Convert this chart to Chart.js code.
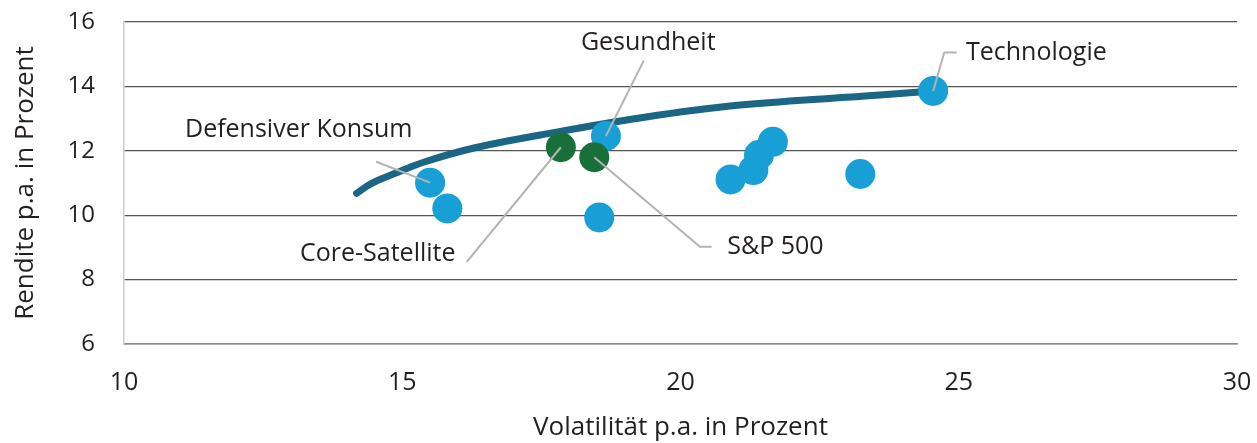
<!DOCTYPE html>
<html>
<head>
<meta charset="utf-8">
<script src="https://cdn.jsdelivr.net/npm/chart.js@4.4.1/dist/chart.umd.min.js"></script>
<style>
  html, body { margin: 0; padding: 0; background: #fff; }
  #wrap { width: 1257px; height: 443px; }
</style>
</head>
<body>
<div id="wrap"><canvas id="chart" width="1257" height="443"></canvas></div>
<script>
// efficient frontier (volatility / return)
const frontierVol = [14.18, 14.45, 14.87, 15.41, 16.27, 17.48, 19.27, 21.07, 23.58, 24.54];
const frontierRet = [10.68, 10.99, 11.30, 11.66, 12.08, 12.49, 13.02, 13.42, 13.73, 13.86];

// sectors (blue)
const sectorVol = [15.50, 15.81, 18.66, 18.54, 20.90, 21.31, 21.41, 21.66, 23.23, 24.54];
const sectorRet = [11.01, 10.21, 12.46, 9.93, 11.11, 11.40, 11.87, 12.28, 11.28, 13.86];

// portfolios (green): Core-Satellite, S&P 500
const portVol = [17.85, 18.45];
const portRet = [12.11, 11.80];

const xTicks = [10, 15, 20, 25, 30];
const yTicks = [6, 8, 10, 12, 14, 16];

// callout labels: text, label anchor, optional elbow, target point
const callouts = [
  { text: 'Defensiver Konsum', tx: 13.14, ty: 12.65, align: 'center', from: [14.53, 11.66], to: [sectorVol[0], sectorRet[0]] },
  { text: 'Gesundheit', tx: 19.42, ty: 15.35, align: 'center', from: [19.34, 14.80], to: [sectorVol[2], sectorRet[2]] },
  { text: 'Technologie', tx: 25.13, ty: 15.04, align: 'left', from: [24.96, 15.05], elbow: [24.74, 15.05], to: [sectorVol[9], sectorRet[9]] },
  { text: 'Core-Satellite', tx: 14.56, ty: 8.80, align: 'center', from: [16.16, 8.55], to: [portVol[0], portRet[0]] },
  { text: 'S&P 500', tx: 20.84, ty: 9.01, align: 'left', from: [20.56, 9.02], elbow: [20.35, 9.02], to: [portVol[1], portRet[1]] }
];

const FONT = "'Open Sans', sans-serif";
const TEXT = '#231f20';

const calloutPlugin = {
  id: 'callouts',
  afterDatasetsDraw(chart) {
    const { ctx, scales: { x, y } } = chart;
    ctx.save();
    ctx.strokeStyle = '#b3b3b3';
    ctx.lineWidth = 2;
    callouts.forEach(c => {
      ctx.beginPath();
      ctx.moveTo(x.getPixelForValue(c.from[0]), y.getPixelForValue(c.from[1]));
      if (c.elbow) ctx.lineTo(x.getPixelForValue(c.elbow[0]), y.getPixelForValue(c.elbow[1]));
      ctx.lineTo(x.getPixelForValue(c.to[0]), y.getPixelForValue(c.to[1]));
      ctx.stroke();
    });
    ctx.fillStyle = TEXT;
    ctx.font = '25px ' + FONT;
    ctx.textBaseline = 'middle';
    callouts.forEach(c => {
      ctx.textAlign = c.align;
      ctx.fillText(c.text, x.getPixelForValue(c.tx), y.getPixelForValue(c.ty));
    });
    ctx.restore();
  }
};

new Chart(document.getElementById('chart'), {
  type: 'scatter',
  data: {
    datasets: [
      {
        type: 'line',
        data: frontierVol.map((v, i) => ({ x: v, y: frontierRet[i] })),
        borderColor: '#1b6585',
        borderWidth: 7,
        borderCapStyle: 'round',
        pointRadius: 0,
        tension: 0.4,
        fill: false,
        order: 3
      },
      {
        data: sectorVol.map((v, i) => ({ x: v, y: sectorRet[i] })),
        backgroundColor: '#179fd6',
        borderWidth: 0,
        pointRadius: 15,
        order: 2
      },
      {
        data: portVol.map((v, i) => ({ x: v, y: portRet[i] })),
        backgroundColor: '#186f38',
        borderWidth: 0,
        pointRadius: 15,
        order: 1
      }
    ]
  },
  options: {
    responsive: false,
    animation: false,
    layout: { padding: { top: 22, right: 20, left: 0, bottom: 0 } },
    plugins: { legend: { display: false }, tooltip: { enabled: false } },
    scales: {
      x: {
        type: 'linear',
        min: 10, max: 30,
        afterBuildTicks: s => { s.ticks = xTicks.map(v => ({ value: v })); },
        afterFit: s => { s.height = 99; s.paddingLeft = 0; s.paddingRight = 0; },
        grid: { display: false },
        border: { color: '#8c8c8c', width: 1.5 },
        ticks: { color: TEXT, font: { family: FONT, size: 25 }, padding: 16 },
        title: { display: true, text: 'Volatilität p.a. in Prozent', color: TEXT, font: { family: FONT, size: 26 }, padding: { top: 0, bottom: 0 } }
      },
      y: {
        min: 6, max: 16,
        afterBuildTicks: s => { s.ticks = yTicks.map(v => ({ value: v })); },
        afterFit: s => { s.width = 124; s.paddingTop = 0; s.paddingBottom = 0; },
        grid: { color: '#555555', lineWidth: 1.3, drawTicks: false },
        border: { color: '#cccccc', width: 1.5 },
        ticks: { color: TEXT, font: { family: FONT, size: 24 }, padding: 29 },
        title: { display: true, text: 'Rendite p.a. in Prozent', color: TEXT, font: { family: FONT, size: 26 }, padding: { top: 10, bottom: 0 } }
      }
    }
  },
  plugins: [calloutPlugin]
});
</script>
</body>
</html>
